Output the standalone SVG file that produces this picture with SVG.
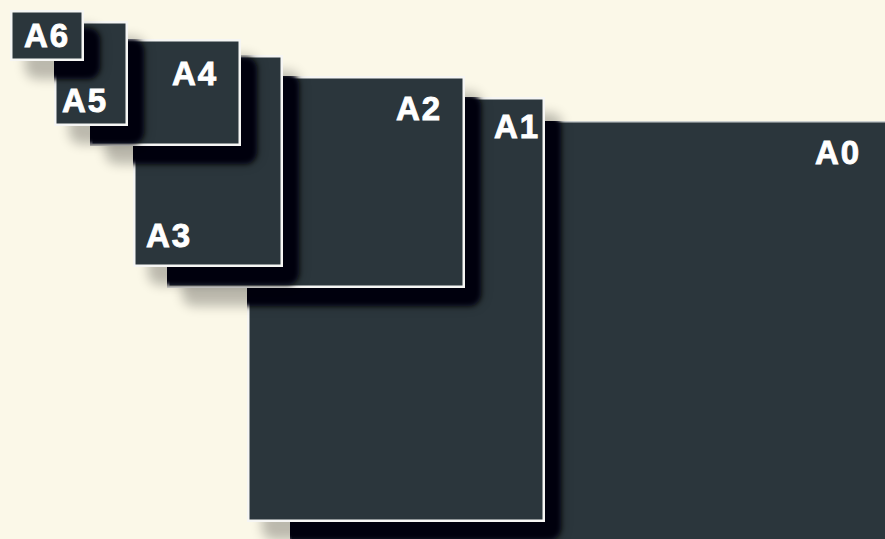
<svg xmlns="http://www.w3.org/2000/svg" width="885" height="539" viewBox="0 0 885 539">
<defs>
<style>
.panel{fill:#2b363c;stroke:#f6f6f4;stroke-width:2.5}
.p0{fill:#2b363c;stroke:#c9cdcd;stroke-width:1.5}
.lbl{font-family:"Liberation Sans",Arial,sans-serif;font-weight:bold;font-size:33px;fill:#ffffff;stroke:#ffffff;stroke-width:0.9;letter-spacing:2px}
.hard{fill:#03050a;filter:url(#bh)}
.soft{fill:#000;opacity:0.25;filter:url(#bs)}
</style>
<filter id="bh" x="-20%" y="-20%" width="140%" height="140%"><feGaussianBlur stdDeviation="2.5"/></filter>
<filter id="bs" x="-30%" y="-30%" width="160%" height="160%"><feGaussianBlur stdDeviation="6"/></filter>
<clipPath id="c1"><rect x="290" y="121" width="600" height="430"/></clipPath>
<clipPath id="c2"><rect x="290" y="121" width="600" height="430"/><rect x="247" y="97" width="298" height="425"/></clipPath>
<clipPath id="c3"><rect x="290" y="121" width="600" height="430"/><rect x="247" y="97" width="298" height="425"/><rect x="167" y="76" width="298" height="212"/></clipPath>
<clipPath id="c4"><rect x="290" y="121" width="600" height="430"/><rect x="247" y="97" width="298" height="425"/><rect x="167" y="76" width="298" height="212"/><rect x="133" y="55" width="150" height="212"/></clipPath>
<clipPath id="c5"><rect x="290" y="121" width="600" height="430"/><rect x="247" y="97" width="298" height="425"/><rect x="167" y="76" width="298" height="212"/><rect x="133" y="55" width="150" height="212"/><rect x="90" y="39" width="151" height="107"/></clipPath>
<clipPath id="c6"><rect x="290" y="121" width="600" height="430"/><rect x="247" y="97" width="298" height="425"/><rect x="167" y="76" width="298" height="212"/><rect x="133" y="55" width="150" height="212"/><rect x="90" y="39" width="151" height="107"/><rect x="54" y="21" width="74" height="105"/></clipPath>
</defs>
<rect x="0" y="0" width="885" height="539" fill="#fbf8e8"/>

<g id="A0">
<rect class="p0" x="290.75" y="121.75" width="600" height="430"/>
<text class="lbl" x="815" y="164">A0</text>
</g>

<g id="A1">
<rect class="soft" x="262" y="113" width="300" height="427" rx="12"/>
<rect class="hard" x="263" y="115" width="298" height="425" rx="12" clip-path="url(#c1)"/>
<rect class="panel" x="248.25" y="98.25" width="295.5" height="422.5"/>
<text class="lbl" x="494" y="138">A1</text>
</g>

<g id="A2">
<rect class="soft" x="182" y="92" width="300" height="214" rx="12"/>
<rect class="hard" x="183" y="94" width="298" height="212" rx="12" clip-path="url(#c2)"/>
<rect class="panel" x="168.25" y="77.25" width="295.5" height="209.5"/>
<text class="lbl" x="396" y="120">A2</text>
</g>

<g id="A3">
<rect class="soft" x="148" y="71" width="152" height="214" rx="12"/>
<rect class="hard" x="149" y="73" width="150" height="212" rx="12" clip-path="url(#c3)"/>
<rect class="panel" x="134.25" y="56.25" width="147.5" height="209.5"/>
<text class="lbl" x="146" y="247">A3</text>
</g>

<g id="A4">
<rect class="soft" x="105" y="55" width="153" height="109" rx="12"/>
<rect class="hard" x="106" y="57" width="151" height="107" rx="12" clip-path="url(#c4)"/>
<rect class="panel" x="91.25" y="40.25" width="148.5" height="104.5"/>
<text class="lbl" x="172" y="85">A4</text>
</g>

<g id="A5">
<rect class="soft" x="69" y="37" width="76" height="107" rx="12"/>
<rect class="hard" x="70" y="39" width="74" height="105" rx="12" clip-path="url(#c5)"/>
<rect class="panel" x="55.25" y="22.25" width="71.5" height="102.5"/>
<text class="lbl" x="62" y="112">A5</text>
</g>

<g id="A6">
<rect class="soft" x="25" y="26" width="76" height="53" rx="12"/>
<rect class="hard" x="26" y="28" width="74" height="51" rx="12" clip-path="url(#c6)"/>
<rect class="panel" x="11.25" y="11.25" width="71.5" height="48.5"/>
<text class="lbl" x="24" y="47">A6</text>
</g>

<g id="connectors"/>
</svg>
